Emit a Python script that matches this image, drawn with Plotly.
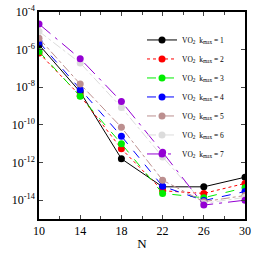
import plotly.graph_objects as go

N = [10, 14, 18, 22, 26, 30]
# log10 of error values
k1 = [-5.74, -8.25, -11.80, -13.29, -13.29, -12.78]
k2 = [-6.18, -8.45, -11.27, -13.50, -13.64, -13.11]
k3 = [-6.10, -8.48, -11.00, -13.64, -13.87, -13.34]
k4 = [-5.60, -8.13, -10.60, -13.26, -14.02, -13.54]
k5 = [-5.40, -7.83, -10.13, -12.94, -14.08, -13.75]
k6 = [-5.03, -6.71, -9.07, -11.70, -14.17, -13.85]
k7 = [-4.64, -6.48, -8.76, -11.45, -14.26, -14.00]

series = [k1, k2, k3, k4, k5, k6, k7]
names = [f"VO<sub>2</sub>  k<sub>max</sub> = {i}" for i in range(1, 8)]
colors = ["black", "red", "#00ee00", "blue", "#bc8f8f", "#dcdcdc", "#9400d3"]
dashes = ["solid", "dot", "dash", "dash", "dashdot", "dashdot", "longdashdot"]

ytick_exp = [-4, -6, -8, -10, -12, -14]

fig = go.Figure()
for s, nm, c, d in zip(series, names, colors, dashes):
    fig.add_trace(go.Scatter(
        x=N, y=[10 ** v for v in s], name=nm, mode="lines+markers",
        line=dict(color=c, width=1, dash=d),
        marker=dict(color=c, size=7, symbol="circle"),
    ))

font = "Liberation Serif, Times New Roman, serif"
fig.update_layout(
    template="none",
    width=258, height=258,
    margin=dict(l=39, r=13, t=12, b=39),
    paper_bgcolor="white", plot_bgcolor="white",
    font=dict(family=font, size=12, color="black"),
    showlegend=True,
    legend=dict(x=0.5, y=0.935, xanchor="left", yanchor="top",
                bgcolor="rgba(0,0,0,0)", font=dict(size=7.5, family=font, color="black"),
                tracegroupgap=0, itemwidth=30),
)
fig.update_xaxes(
    range=[10, 30], tickvals=N, ticks="inside", ticklen=4,
    minor=dict(dtick=2, tick0=10, ticks="inside", ticklen=3),
    showline=True, linecolor="black", linewidth=1.5, mirror="ticks",
    showgrid=False, zeroline=False,
    title=dict(text="N", standoff=2, font=dict(size=13, color="black")),
    tickfont=dict(size=12, color="black"),
)
fig.update_yaxes(
    type="log", range=[-15, -4],
    tickvals=[10 ** e for e in ytick_exp],
    ticktext=[f"10<sup>{e}</sup>" for e in ytick_exp],
    ticks="inside", ticklen=4,
    showline=True, linecolor="black", linewidth=1.5, mirror="ticks",
    showgrid=False, zeroline=False, tickfont=dict(size=12, color="black"),
)
fig.write_html("out.html", config={"displayModeBar": False},
               post_script="document.body.style.margin='0';")
